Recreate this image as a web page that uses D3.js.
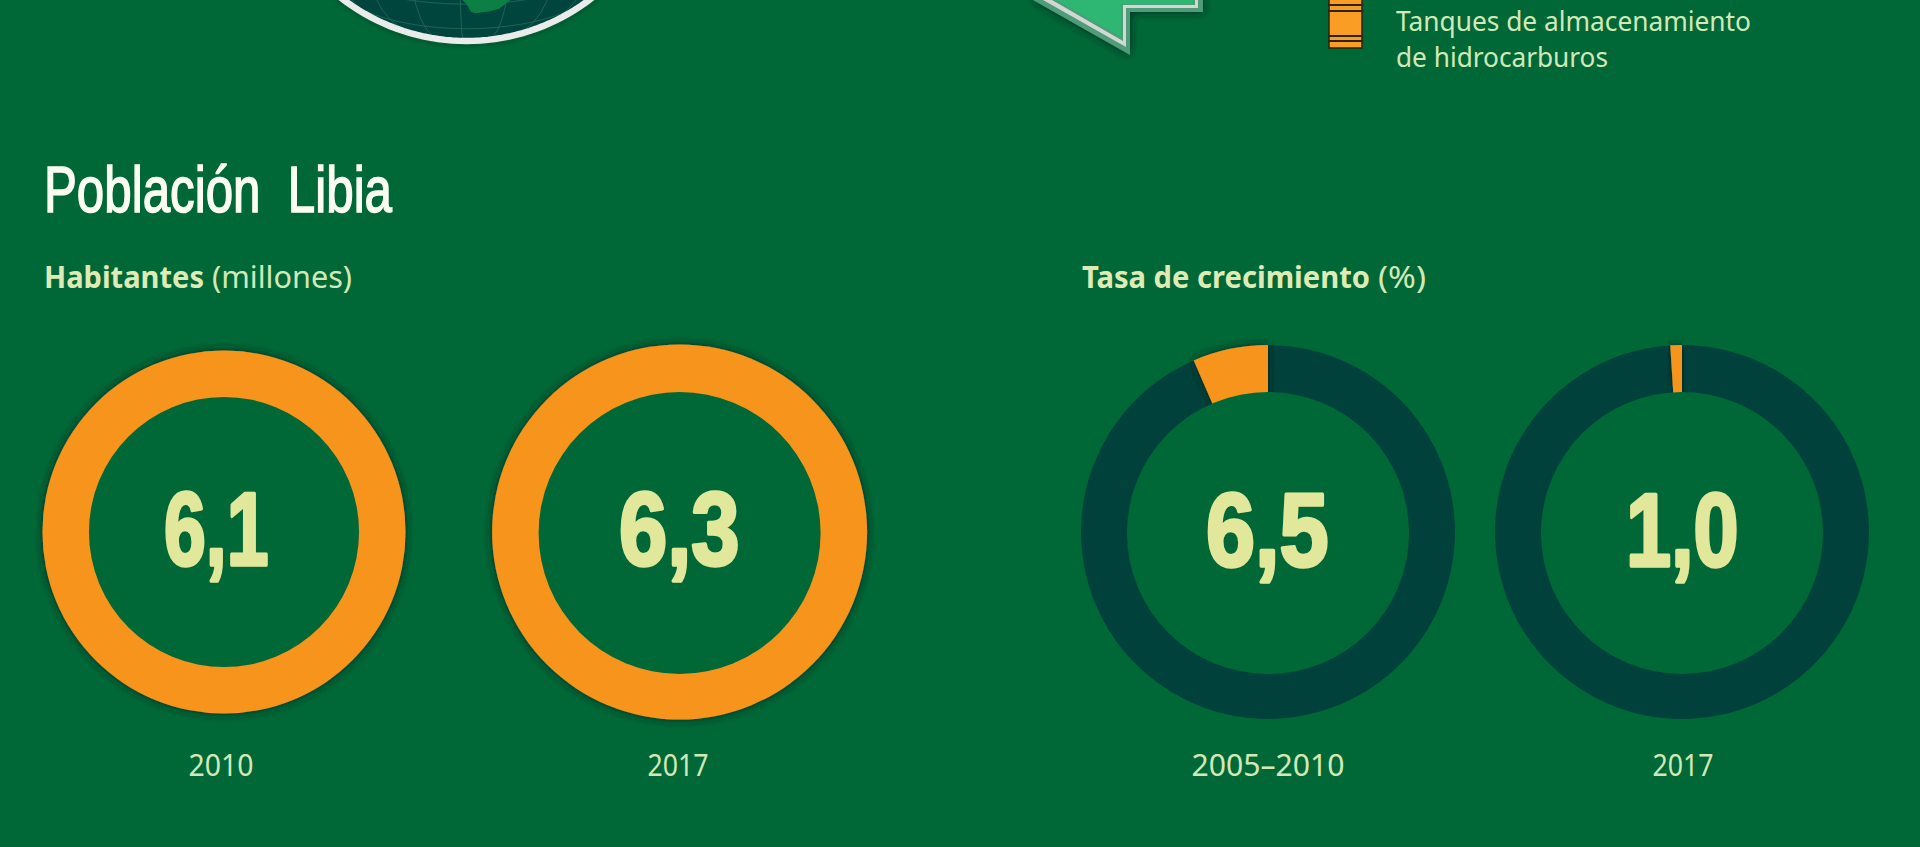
<!DOCTYPE html>
<html lang="es">
<head>
<meta charset="utf-8">
<script src="https://cdnjs.cloudflare.com/ajax/libs/d3/7.8.5/d3.min.js"></script>
<style>
html,body{margin:0;padding:0;background:#006837;overflow:hidden}
svg{display:block}
text{white-space:pre}
</style>
</head>
<body>
<script>
// ---- data ----
const popYears = ["2010", "2017"];
const popValues = [6.1, 6.3];
const popLabels = ["6,1", "6,3"];
const growthYears = ["2005–2010", "2017"];
const growthValues = [6.5, 1.0];
const growthLabels = ["6,5", "1,0"];
const sectionTitle = "Población  Libia";
const popHeading = ["Habitantes", "(millones)"];
const growthHeading = ["Tasa de crecimiento", "(%)"];
const legendLines = ["Tanques de almacenamiento", "de hidrocarburos"];
const africaOutline = [[12,-10],[40,-10],[40,-15],[33,-20],[33,-26],[31,-29.5],[28,-33],[25,-34],[20,-34.8],[18.5,-34],[17,-30],[15,-27],[13,-20],[12,-10]];

// ---- style ----
const BG = "#006837", DARK = "#00423b", ORANGE = "#f7941d", PALE = "#d3e8b8", HEAD = "#dfeab6", NUM = "#e2e89b";
const SANS = "'Noto Sans','Open Sans',sans-serif";
const NARROW = "'Liberation Sans Narrow','Liberation Sans',sans-serif";

const svg = d3.select("body").append("svg").attr("width", 1920).attr("height", 847);
svg.append("rect").attr("width", 1920).attr("height", 847).attr("fill", BG);

const defs = svg.append("defs");
const shadow = defs.append("filter").attr("id", "soft").attr("x", "-20%").attr("y", "-20%").attr("width", "140%").attr("height", "140%");
shadow.append("feDropShadow").attr("dx", 0).attr("dy", 0).attr("stdDeviation", 5).attr("flood-color", "#00231a").attr("flood-opacity", .85);

function label(x, y, str, size, fill, family, weight, width, anchor) {
  const t = svg.append("text").attr("x", x).attr("y", y).text(str)
    .attr("font-size", size).attr("fill", fill).attr("font-family", family)
    .attr("font-weight", weight || 400).attr("text-anchor", anchor || "start");
  if (width) t.attr("textLength", width).attr("lengthAdjust", "spacingAndGlyphs");
  return t;
}
function bigNumber(left, right, baseline, str) {
  label(left - 1, baseline - 1.8, str, 103, NUM, NARROW, 700, right - left + 2.5)
    .attr("stroke", NUM).attr("stroke-width", 3.6).attr("stroke-linejoin", "round");
}

// ---- globe fragment ----
const projection = d3.geoOrthographic().scale(204).translate([466.5, -163]).rotate([-17, -25]).clipAngle(90);
const geo = d3.geoPath(projection);
svg.append("path").datum({type: "Sphere"}).attr("d", geo).attr("fill", "#00453c").attr("filter", "url(#soft)");
svg.append("path").datum(d3.geoGraticule().step([15, 15])()).attr("d", geo)
  .attr("fill", "none").attr("stroke", "#2c7a66").attr("stroke-width", 1).attr("stroke-opacity", .6);
svg.append("path").datum({type: "Polygon", coordinates: [africaOutline]}).attr("d", geo).attr("fill", "#0c7f45");
svg.append("path").datum({type: "Sphere"}).attr("d", geo).attr("fill", "none").attr("stroke", "#e9ecea").attr("stroke-width", 6.5);

// ---- marker arrow fragment ----
const arrowLayers = [
  {fill: "#4f9c78", pts: [[1033,-2],[1033,0],[1130,55],[1130,12],[1203,12],[1203,-2]]},
  {fill: "#d3d7d3", pts: [[1043,0],[1126,47],[1126,8],[1198,8],[1198,0]]},
  {fill: "#4f9c78", pts: [[1052,0],[1123,41],[1123,5],[1195,5],[1195,0]]},
  {fill: "#2eb673", pts: [[1056,0],[1121,37],[1121,4],[1193,4],[1193,0]]}
];
arrowLayers.forEach((l, i) => {
  const p = svg.append("path").attr("d", d3.line()(l.pts) + "Z").attr("fill", l.fill);
  if (i === 0) p.attr("filter", "url(#soft)");
});

// ---- legend tank ----
svg.append("rect").attr("x", 1329).attr("y", -4).attr("width", 33).attr("height", 52).attr("fill", "#f99d25").attr("stroke", "#2a2410").attr("stroke-width", 1.5);
[5, 11, 36, 41].forEach(y => svg.append("line").attr("x1", 1328).attr("x2", 1363).attr("y1", y).attr("y2", y).attr("stroke", "#2a2410").attr("stroke-width", 2));
label(1396, 31, legendLines[0], 27, PALE, SANS, 400, 355);
label(1396, 67, legendLines[1], 27, PALE, SANS, 400, 212);

// ---- headings ----
label(44, 212, sectionTitle, 65, "#fbfdf2", NARROW, 400, 348).attr("stroke", "#fbfdf2").attr("stroke-width", 1.6);
label(44, 288, popHeading[0], 30, HEAD, SANS, 700, 160);
label(212, 288, popHeading[1], 30, PALE, SANS, 400, 140);
label(1082, 288, growthHeading[0], 30, HEAD, SANS, 700, 288);
label(1378, 288, growthHeading[1], 30, PALE, SANS, 400, 48);

// ---- population rings: outer radius proportional to the value ----
const THICK = 46.5;
const radius = d3.scaleLinear().domain([0, 6.3]).range([0, 187.5]);
const popX = [224, 679.6], popNumExtent = [[165, 267], [620, 738]], popBase = [566.5, 566.7];
popValues.forEach((v, i) => {
  const r = radius(v);
  const g = svg.append("g").attr("transform", `translate(${popX[i]},532)`);
  g.append("circle").attr("r", r).attr("fill", ORANGE).attr("filter", "url(#soft)");
  g.append("circle").attr("cy", i ? 1 : 0).attr("r", r - THICK).attr("fill", BG);
  bigNumber(popNumExtent[i][0], popNumExtent[i][1], popBase[i], popLabels[i]);
  label(i ? 678 : 221, 776, popYears[i], 30, PALE, SANS, 400, i ? 61 : 65, "middle");
});

// ---- growth rings ----
const growthX = [1268, 1682], growthNumExtent = [[1207, 1327], [1627, 1737]];
const pie = d3.pie().sort(null).startAngle(0).endAngle(-2 * Math.PI);
const ring = d3.arc().innerRadius(130).outerRadius(187);
growthValues.forEach((v, i) => {
  const g = svg.append("g").attr("transform", `translate(${growthX[i]},532)`);
  const slices = pie([v, 100 - v]);
  g.append("path").attr("d", ring(slices[1])).attr("fill", DARK);
  g.append("path").attr("d", ring(slices[0])).attr("fill", ORANGE).attr("filter", "url(#soft)");
  g.append("circle").attr("cy", 1).attr("r", 141).attr("fill", BG);
  bigNumber(growthNumExtent[i][0], growthNumExtent[i][1], 568, growthLabels[i]);
  label(growthX[i] + (i ? 1 : 0), 776, growthYears[i], 30, PALE, SANS, 400, i ? 61 : 153, "middle");
});
</script>
</body>
</html>
